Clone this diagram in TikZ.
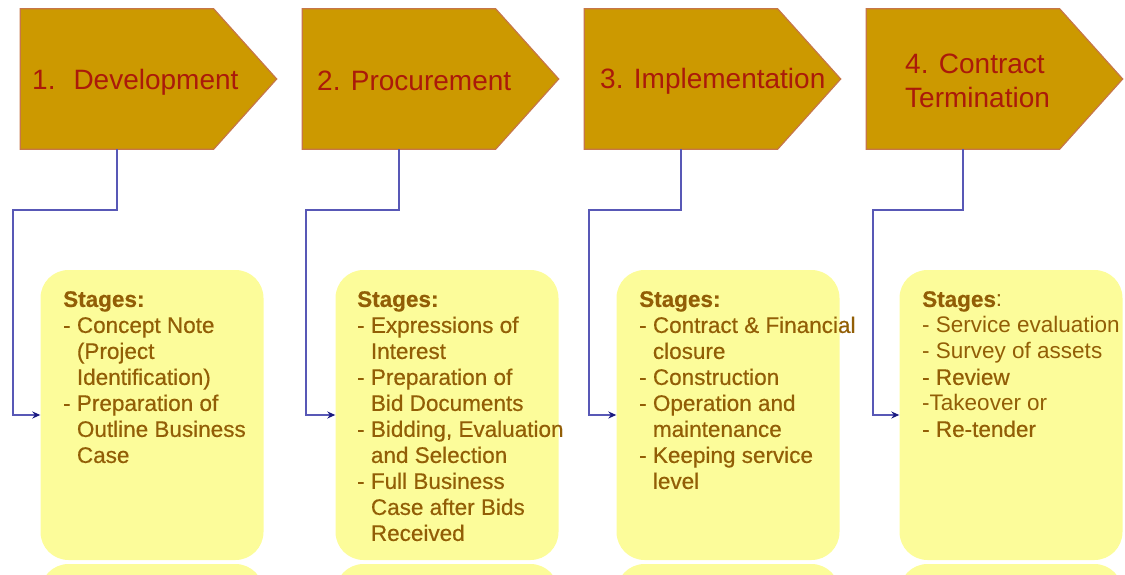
\documentclass[tikz,border=0pt]{standalone}
\usepackage{fontspec}
\setmainfont{Liberation Sans}
\newfontfamily\heavyfont[FakeBold=0.5]{Liberation Sans}
\usetikzlibrary{arrows.meta}
\definecolor{gold}{RGB}{204,153,0}
\definecolor{goldedge}{RGB}{198,118,72}
\definecolor{titlered}{RGB}{170,26,10}
\definecolor{notefill}{RGB}{252,252,154}
\definecolor{notetext}{RGB}{146,94,6}
\definecolor{linkblue}{RGB}{88,88,182}
\definecolor{tipblue}{RGB}{26,26,128}
\newcommand{\dsh}{-\ }
\newcommand{\ind}{\phantom{-\ }}
\newcommand{\lite}[1]{{\normalfont #1}}
\begin{document}
\begin{tikzpicture}[x=1pt,y=-1pt,
    body/.style={minimum width=193pt,minimum height=140pt,inner sep=0pt},
    pointer/.style={fill=gold,draw=goldedge,line width=1.2pt},
    title/.style={anchor=west,inner sep=0pt,text=titlered,align=left,
      font=\fontsize{28}{34}\selectfont},
    note/.style={fill=notefill,rounded corners=28pt,minimum width=223pt,
      minimum height=290pt,inner sep=0pt},
    notetxt/.style={anchor=north west,inner sep=0pt,text=notetext,align=left,
      font=\fontsize{22.5}{26}\selectfont\heavyfont},
    link/.style={draw=linkblue,line width=1.5pt,
      -{Stealth[length=8pt,width=7pt,color=tipblue]}}]
  \useasboundingbox (0,0) rectangle (1125,575);
  % stage arrows
  \node[body] (stg1) at (117,79) {};
  \node[body] (stg2) at (399,79) {};
  \node[body] (stg3) at (681,79) {};
  \node[body] (stg4) at (963,79) {};
  \draw[pointer] (stg1.north west) -- (stg1.north east) -- ([xshift=63pt]stg1.east) -- (stg1.south east) -- (stg1.south west) -- cycle;
  \draw[pointer] (stg2.north west) -- (stg2.north east) -- ([xshift=63pt]stg2.east) -- (stg2.south east) -- (stg2.south west) -- cycle;
  \draw[pointer] (stg3.north west) -- (stg3.north east) -- ([xshift=63pt]stg3.east) -- (stg3.south east) -- (stg3.south west) -- cycle;
  \draw[pointer] (stg4.north west) -- (stg4.north east) -- ([xshift=63pt]stg4.east) -- (stg4.south east) -- (stg4.south west) -- cycle;
  \node[title] (lbl1) at (32,82) {1.\hspace{18pt}Development};
  \node[title] (lbl2) at (317,81) {2. Procurement};
  \node[title] (lbl3) at (600,81) {3. Implementation};
  \node[title] (lbl4) at (905,81) {4. Contract\\Termination};
  % stage notes and their reflections
  \node[note] (box1) at (152,415) {};
  \node[note] (box2) at (447,415) {};
  \node[note] (box3) at (728,415) {};
  \node[note] (box4) at (1011,415) {};
  \begin{scope}
    \clip (0,0) rectangle (1125,575);
    \node[note] (refl1) at (152,709) {};
    \node[note] (refl2) at (447,709) {};
    \node[note] (refl3) at (728,709) {};
    \node[note] (refl4) at (1011,709) {};
  \end{scope}
  \node[notetxt] (txt1) at (63,291) {\textbf{Stages:}\\\dsh Concept Note\\\ind(Project\\\ind Identification)\\\dsh Preparation of\\\ind Outline Business\\\ind Case};
  \node[notetxt] (txt2) at (357,291) {\textbf{Stages:}\\\dsh Expressions of\\\ind Interest\\\dsh Preparation of\\\ind Bid Documents\\\dsh Bidding, Evaluation\\\ind and Selection\\\dsh Full Business\\\ind Case after Bids\\\ind Received};
  \node[notetxt] (txt3) at (639,291) {\textbf{Stages:}\\\dsh Contract \& Financial\\\ind closure\\\dsh Construction\\\dsh Operation and\\\ind maintenance\\\dsh Keeping service\\\ind level};
  \node[notetxt] (txt4) at (922,291) {\textbf{Stages}\lite{:}\\\lite{- Service evaluation}\\\lite{- Survey of assets}\\\dsh Review\\\lite{-Takeover or}\\\dsh Re-tender};
  % connectors
  \coordinate (k1) at (13,210);
  \coordinate (k2) at (306,210);
  \coordinate (k3) at (589,210);
  \coordinate (k4) at (873,210);
  \draw[link] (stg1.south) |- (k1) |- (box1.west);
  \draw[link] (stg2.south) |- (k2) |- (box2.west);
  \draw[link] (stg3.south) |- (k3) |- (box3.west);
  \draw[link] (stg4.south) |- (k4) |- (box4.west);
\end{tikzpicture}
\end{document}
